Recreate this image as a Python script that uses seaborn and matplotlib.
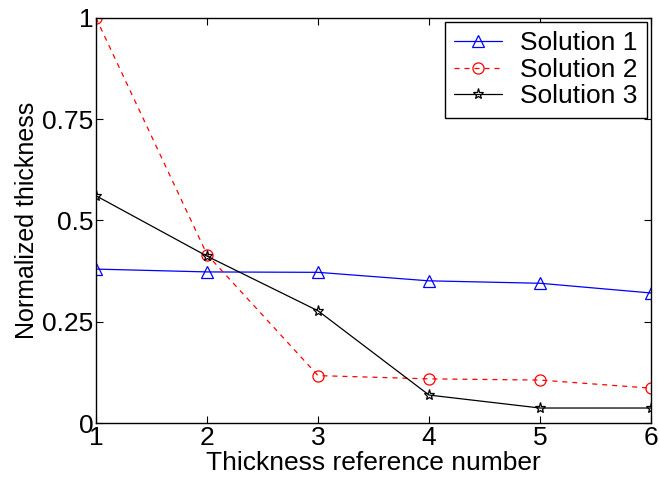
import matplotlib
matplotlib.use("Agg")
import matplotlib.pyplot as plt
import seaborn as sns
import pandas as pd

x_ref = [1, 2, 3, 4, 5, 6]
sol1 = [0.380, 0.373, 0.372, 0.351, 0.345, 0.321]
sol2 = [1.000, 0.416, 0.117, 0.109, 0.106, 0.086]
sol3 = [0.561, 0.412, 0.277, 0.069, 0.037, 0.037]
series_names = ["Solution 1", "Solution 2", "Solution 3"]
x_ticks = [1, 2, 3, 4, 5, 6]
y_ticks = [0, 0.25, 0.5, 0.75, 1]
y_tick_labels = ["0", "0.25", "0.5", "0.75", "1"]

sns.set_theme(style="white")
plt.rcParams["font.family"] = ["Liberation Sans", "DejaVu Sans"]
plt.rcParams["text.color"] = "black"
plt.rcParams["axes.labelcolor"] = "black"

fig = plt.figure(figsize=(6.59, 4.82), dpi=100)
ax = fig.add_axes([0.1457, 0.1224, 0.8422, 0.8403])

styles = [
    dict(color="#0000ff", marker="^", linestyle="-"),
    dict(color="#ff0000", marker="o", linestyle=(0, (4, 4))),
    dict(color="#000000", marker="*", linestyle="-"),
]
for name, vals, st in zip(series_names, [sol1, sol2, sol3], styles):
    df = pd.DataFrame({"x": x_ref, "y": vals})
    sns.lineplot(data=df, x="x", y="y", ax=ax, color=st["color"],
                 marker=st["marker"], linestyle=st["linestyle"],
                 markersize=8, markerfacecolor="none",
                 markeredgecolor=st["color"], markeredgewidth=0.9,
                 linewidth=0.9, label=name)

ax.set_xlim(1, 6)
ax.set_ylim(0, 1)
ax.set_xticks(x_ticks)
ax.set_xticklabels([str(v) for v in x_ticks])
ax.set_yticks(y_ticks)
ax.set_yticklabels(y_tick_labels)
ax.tick_params(axis="both", which="both", direction="in", length=5, width=0.8,
               colors="black", labelsize=19, pad=2, top=True, right=True,
               bottom=True, left=True)
for s in ax.spines.values():
    s.set_visible(True)
    s.set_color("black")
    s.set_linewidth(1.0)

ax.set_xlabel("Thickness reference number", fontsize=19, labelpad=1, color="black")
ax.set_ylabel("Normalized thickness", fontsize=18, labelpad=2, color="black")

leg = ax.legend(loc="upper right", fontsize=19, frameon=True, fancybox=False,
                borderaxespad=0.15, handlelength=1.8, handletextpad=0.7,
                labelspacing=0.1, borderpad=0.35)
leg.get_frame().set_edgecolor("black")
leg.get_frame().set_linewidth(1.0)
leg.get_frame().set_alpha(1)
for t in leg.get_texts():
    t.set_color("black")

fig.savefig("out.png", dpi=100)
